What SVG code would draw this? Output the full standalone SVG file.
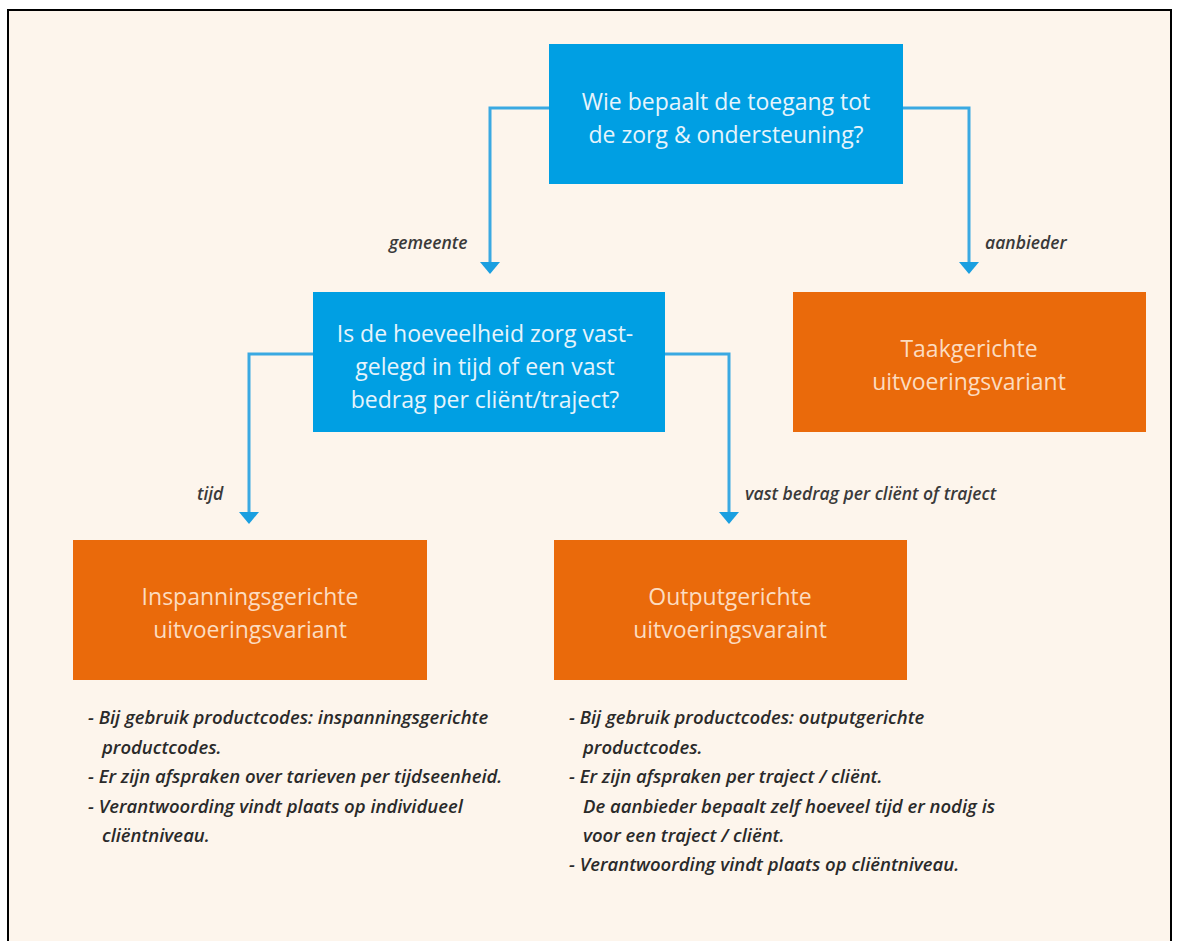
<svg xmlns="http://www.w3.org/2000/svg" width="1179" height="941" viewBox="0 0 1179 941">
  <defs>
    <style>
      .blue { fill: #009fe3; }
      .orange { fill: #ea6a0b; }
      .btxt { font-family: "Open Sans", "Liberation Sans", sans-serif; font-size: 23px; fill: #e6f4fc; text-anchor: middle; }
      .otxt { font-family: "Open Sans", "Liberation Sans", sans-serif; font-size: 23px; fill: #fcdcc0; text-anchor: middle; }
      .lbl { font-family: "Open Sans", "Liberation Sans", sans-serif; font-style: italic; font-weight: 600; font-size: 17.5px; fill: #3a3a3a; }
      .bul { font-family: "Open Sans", "Liberation Sans", sans-serif; font-style: italic; font-weight: 600; font-size: 18.5px; fill: #2a2a2a; }
      .conn { fill: none; stroke: #3aa9e2; stroke-width: 3; }
      .head { fill: #1b9fe0; }
    </style>
  </defs>
  <rect x="0" y="0" width="1179" height="941" fill="#ffffff"/>
  <rect x="8" y="10" width="1163" height="940" fill="#fdf5ec" stroke="#000000" stroke-width="2"/>

  <g id="connectors">
    <path class="conn" d="M549,108 H490 V262"/>
    <path class="head" d="M480,262 L500,262 L490,274 Z"/>
    <path class="conn" d="M903,108 H969 V262"/>
    <path class="head" d="M959,262 L979,262 L969,274 Z"/>
    <path class="conn" d="M313,354 H249 V512"/>
    <path class="head" d="M239,512 L259,512 L249,524 Z"/>
    <path class="conn" d="M665,354 H729 V512"/>
    <path class="head" d="M719,512 L739,512 L729,524 Z"/>
    <text class="lbl" x="389" y="249">gemeente</text>
    <text class="lbl" x="985" y="249">aanbieder</text>
    <text class="lbl" x="197" y="500">tijd</text>
    <text class="lbl" x="745" y="500">vast bedrag per cliënt of traject</text>
  </g>

  <g id="node-toegang">
    <rect class="blue" x="549" y="44" width="354" height="140"/>
    <text class="btxt" x="726" y="110">Wie bepaalt de toegang tot</text>
    <text class="btxt" x="726" y="143">de zorg &amp; ondersteuning?</text>
  </g>

  <g id="node-hoeveelheid">
    <rect class="blue" x="313" y="292" width="352" height="140"/>
    <text class="btxt" x="485" y="342">Is de hoeveelheid zorg vast-</text>
    <text class="btxt" x="485" y="375">gelegd in tijd of een vast</text>
    <text class="btxt" x="485" y="408">bedrag per cliënt/traject?</text>
  </g>

  <g id="node-taak">
    <rect class="orange" x="793" y="292" width="353" height="140"/>
    <text class="otxt" x="969" y="357">Taakgerichte</text>
    <text class="otxt" x="969" y="390">uitvoeringsvariant</text>
  </g>

  <g id="node-inspanning">
    <rect class="orange" x="73" y="540" width="354" height="140"/>
    <text class="otxt" x="250" y="605">Inspanningsgerichte</text>
    <text class="otxt" x="250" y="638">uitvoeringsvariant</text>
  </g>

  <g id="node-output">
    <rect class="orange" x="554" y="540" width="353" height="140"/>
    <text class="otxt" x="730" y="605">Outputgerichte</text>
    <text class="otxt" x="730" y="638">uitvoeringsvaraint</text>
  </g>

  <g id="notes-inspanning">
    <text class="bul" x="88" y="724">- Bij gebruik productcodes: inspanningsgerichte</text>
    <text class="bul" x="102" y="754">productcodes.</text>
    <text class="bul" x="88" y="783">- Er zijn afspraken over tarieven per tijdseenheid.</text>
    <text class="bul" x="88" y="813">- Verantwoording vindt plaats op individueel</text>
    <text class="bul" x="102" y="842">cliëntniveau.</text>
  </g>

  <g id="notes-output">
    <text class="bul" x="569" y="724">- Bij gebruik productcodes: outputgerichte</text>
    <text class="bul" x="583" y="754">productcodes.</text>
    <text class="bul" x="569" y="783">- Er zijn afspraken per traject / cliënt.</text>
    <text class="bul" x="583" y="813">De aanbieder bepaalt zelf hoeveel tijd er nodig is</text>
    <text class="bul" x="583" y="842">voor een traject / cliënt.</text>
    <text class="bul" x="569" y="871">- Verantwoording vindt plaats op cliëntniveau.</text>
  </g>
</svg>
